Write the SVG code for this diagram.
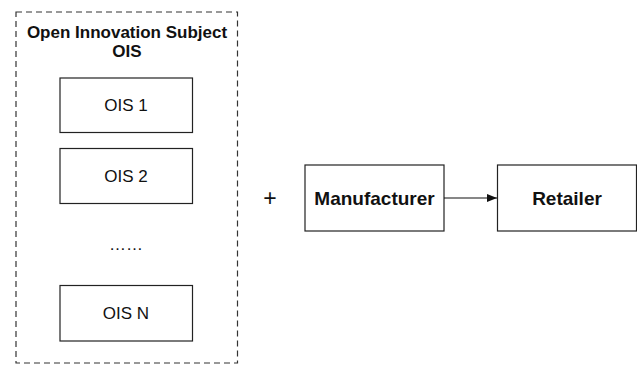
<svg xmlns="http://www.w3.org/2000/svg" width="637" height="367" viewBox="0 0 637 367">
  <style>
    .box { fill: #ffffff; stroke: #222222; stroke-width: 1.2; }
    .group { fill: none; stroke: #333333; stroke-width: 1.2; stroke-dasharray: 6 4; }
    .title { font-family: "Liberation Sans", Arial, sans-serif; font-weight: bold; font-size: 17px; fill: #111111; text-anchor: middle; }
    .label { font-family: "Liberation Sans", Arial, sans-serif; font-size: 17px; fill: #111111; text-anchor: middle; }
    .big { font-family: "Liberation Sans", Arial, sans-serif; font-weight: bold; font-size: 19px; fill: #111111; text-anchor: middle; }
    .plus { font-family: "Liberation Sans", Arial, sans-serif; font-size: 23px; fill: #111111; text-anchor: middle; }
    .conn { stroke: #111111; stroke-width: 1.2; fill: none; }
  </style>
  <defs>
    <marker id="arrow" markerWidth="10" markerHeight="8" refX="10" refY="4" orient="auto" markerUnits="userSpaceOnUse">
      <path d="M0,0 L10,4 L0,8 Z" fill="#111111"/>
    </marker>
  </defs>
  <rect width="637" height="367" fill="#ffffff"/>

  <g id="ois-group">
    <rect class="group" x="16" y="12" width="221.5" height="351"/>
    <text class="title" x="127" y="37.5">Open Innovation Subject</text>
    <text class="title" x="127" y="57">OIS</text>
  </g>

  <g id="ois-1">
    <rect class="box" x="60" y="78" width="132.5" height="54.5"/>
    <text class="label" x="126" y="111">OIS 1</text>
  </g>

  <g id="ois-2">
    <rect class="box" x="60" y="148.5" width="132.5" height="55"/>
    <text class="label" x="126" y="182">OIS 2</text>
  </g>

  <g id="ois-ellipsis">
    <text class="label" x="126" y="250">……</text>
  </g>

  <g id="ois-n">
    <rect class="box" x="60" y="285.5" width="132.5" height="55.5"/>
    <text class="label" x="126" y="319">OIS N</text>
  </g>

  <g id="plus">
    <text class="plus" x="270" y="206">+</text>
  </g>

  <g id="manufacturer">
    <rect class="box" x="305" y="165" width="139" height="66"/>
    <text class="big" x="374.5" y="205">Manufacturer</text>
  </g>

  <g id="retailer">
    <rect class="box" x="497.5" y="165" width="139" height="66"/>
    <text class="big" x="567" y="205">Retailer</text>
  </g>

  <g id="connectors">
    <line class="conn" x1="444" y1="198" x2="497" y2="198" marker-end="url(#arrow)"/>
  </g>
</svg>
